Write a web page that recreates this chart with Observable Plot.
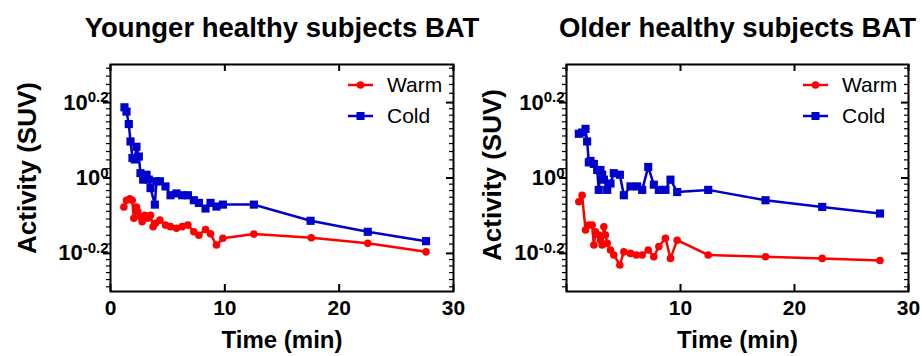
<!DOCTYPE html>
<html><head><meta charset="utf-8">
<script src="https://cdn.jsdelivr.net/npm/d3@7"></script>
<script src="https://cdn.jsdelivr.net/npm/@observablehq/plot@0.6"></script>
<style>
body{margin:0;background:#fff;font-family:"Liberation Sans",Arial,sans-serif;}
#wrap{position:relative;width:922px;height:356px;overflow:hidden;background:#fff;}
#wrap > div{position:absolute;top:0;}
#p1{left:0;} #p2{left:461px;}
#wrap svg{overflow:visible;}
</style></head><body><div id="wrap"><div id="p1"></div><div id="p2"></div></div>
<script>
// ---- data ----
const panelTitles = ["Younger healthy subjects BAT", "Older healthy subjects BAT"];
const seriesNames = ["Warm", "Cold"];
const xTicks = [0, 10, 20, 30];
const xTickLabelsLeft = [0, 10, 20, 30];
const xTickLabelsRight = [10, 20, 30];
const yTickExponents = [-0.2, 0, 0.2];
const yDomain = [0.5, 2];

const youngWarmTime  = [1.17,1.40,1.69,1.90,2.04,2.27,2.39,2.62,2.77,3.00,3.21,3.50,3.73,3.94,4.32,4.81,5.25,5.77,6.27,6.77,7.29,7.73,8.31,8.75,9.27,9.83,12.54,17.56,22.5,27.6];
const youngWarmValue = [0.838,0.873,0.881,0.873,0.782,0.838,0.813,0.789,0.766,0.796,0.782,0.796,0.743,0.758,0.773,0.750,0.743,0.736,0.743,0.750,0.720,0.705,0.730,0.711,0.664,0.692,0.710,0.694,0.671,0.637];
const youngColdTime  = [1.22,1.40,1.60,1.75,1.92,2.13,2.27,2.48,2.62,2.86,3.15,3.35,3.50,3.88,4.02,4.32,4.81,5.25,5.77,6.27,6.77,7.29,7.73,8.31,8.75,9.27,9.83,12.54,17.5,22.5,27.6];
const youngColdValue = [1.54,1.50,1.39,1.25,1.13,1.12,1.21,1.14,1.03,0.99,1.02,0.99,0.94,0.85,0.98,0.98,0.95,0.90,0.91,0.90,0.90,0.873,0.859,0.83,0.859,0.84,0.85,0.85,0.77,0.72,0.68];

const olderWarmTime  = [1.08,1.37,1.67,1.96,2.25,2.40,2.54,2.83,2.98,3.13,3.28,3.42,3.57,3.86,4.15,4.68,5.03,5.61,6.13,6.64,7.17,7.66,8.10,8.68,9.12,9.71,12.43,17.46,22.43,27.5];
const olderWarmValue = [0.865,0.90,0.728,0.75,0.75,0.664,0.72,0.706,0.684,0.664,0.742,0.706,0.671,0.644,0.625,0.588,0.637,0.631,0.625,0.625,0.644,0.618,0.658,0.692,0.612,0.684,0.625,0.618,0.612,0.604];
const olderColdTime  = [1.08,1.37,1.67,1.81,1.96,2.10,2.40,2.69,2.83,2.98,3.13,3.28,3.57,3.86,4.15,4.68,5.03,5.61,6.20,6.64,7.17,7.66,8.10,8.68,9.12,9.71,12.43,17.46,22.43,27.5];
const olderColdValue = [1.31,1.32,1.35,1.25,1.10,1.11,1.09,1.05,0.93,1.05,1.02,0.99,0.93,0.967,1.03,1.02,0.90,0.95,0.95,0.93,1.07,0.96,0.93,0.93,0.99,0.918,0.93,0.873,0.838,0.805];

const warmColor = "#ff0000";
const coldColor = "#0000cc";

// ---- ticks ----
const majorY = yTickExponents.map(e => Math.pow(10, e));
const minorY = [];
for (const e of [-0.4, -0.2, 0, 0.2]) {
  const a = Math.pow(10, e), b = Math.pow(10, e + 0.2);
  for (let j = 1; j < 10; j++) {
    const v = a + j * (b - a) / 10;
    if (v > yDomain[0] && v < yDomain[1]) minorY.push(v);
  }
}

const FONT = "'Liberation Sans', Arial, sans-serif";

function panel(el, opts) {
  const {title, wt, wv, ct, cv, xLabels, width, ml, mr, yLabDx, yLabDy} = opts;
  const warm = wt.map((t, i) => ({t, v: wv[i]}));
  const cold = ct.map((t, i) => ({t, v: cv[i]}));
  const H = 356, mt = 64, mb = 65;
  const fw = width - ml - mr, fh = H - mt - mb;
  const svg = Plot.plot({
    width, height: H, marginTop: mt, marginBottom: mb, marginLeft: ml, marginRight: mr,
    style: {fontFamily: FONT, color: "#000", background: "transparent", overflow: "visible"},
    x: {domain: [0, 30], axis: null},
    y: {type: "log", domain: yDomain, axis: null},
    marks: [
      // ticks
      Plot.tickY(majorY, {y: d => d, insetLeft: -7, insetRight: fw, stroke: "#000", strokeWidth: 2}),
      Plot.tickY(minorY, {y: d => d, insetLeft: -4, insetRight: fw, stroke: "#000", strokeWidth: 1.2}),
      Plot.tickY(majorY, {y: d => d, insetLeft: fw - 7, stroke: "#000", strokeWidth: 2}),
      Plot.tickY(minorY, {y: d => d, insetLeft: fw - 4, stroke: "#000", strokeWidth: 1.2}),
      Plot.tickX(xTicks, {x: d => d, insetTop: fh - 7, stroke: "#000", strokeWidth: 2}),
      Plot.tickX(xTicks, {x: d => d, insetBottom: fh - 7, stroke: "#000", strokeWidth: 2}),
      Plot.frame({stroke: "#000", strokeWidth: 2}),
      // y tick labels
      Plot.text(yTickExponents, {y: e => Math.pow(10, e), frameAnchor: "left", dx: -2, textAnchor: "end", lineAnchor: "middle",
        text: e => "10^" + (e === 0 ? "0" : String(e)), fontSize: 22, fontWeight: "bold"}),
      // x tick labels
      Plot.text(xLabels, {x: d => d, frameAnchor: "bottom", dy: 17, textAnchor: "middle", lineAnchor: "middle",
        text: d => String(d), fontSize: 21, fontWeight: "bold"}),
      // titles
      Plot.text([title], {frameAnchor: "top", dy: -36, textAnchor: "middle", lineAnchor: "middle",
        text: d => d, fontSize: 27.5, fontWeight: "bold"}),
      Plot.text(["Activity (SUV)"], {frameAnchor: "left", rotate: -90, dx: yLabDx, dy: yLabDy, textAnchor: "middle", lineAnchor: "middle",
        text: d => d, fontSize: 26, fontWeight: "bold"}),
      Plot.text(["Time (min)"], {frameAnchor: "bottom", dy: 49, textAnchor: "middle", lineAnchor: "middle",
        text: d => d, fontSize: 24, fontWeight: "bold"}),
      // data
      Plot.line(warm, {x: "t", y: "v", stroke: warmColor, strokeWidth: 2.5}),
      Plot.dot(warm, {x: "t", y: "v", r: 3.8, fill: warmColor, stroke: "none"}),
      Plot.line(cold, {x: "t", y: "v", stroke: coldColor, strokeWidth: 2.5}),
      Plot.dot(cold, {x: "t", y: "v", r: 4.6, symbol: "square", fill: coldColor, stroke: "none"})
    ]
  });
  // superscripts
  d3.select(svg).selectAll("text").each(function () {
    const s = this.textContent;
    const m = /^10\^(.*)$/.exec(s);
    if (m) {
      const t = d3.select(this);
      t.text("");
      t.append("tspan").text("10");
      t.append("tspan").attr("dy", "-0.5em").attr("font-size", 15).text(m[1]);
    }
  });
  // legend
  const xr = width - mr;
  const lg = d3.select(svg).append("g").attr("text-anchor", "start");
  [[seriesNames[0], warmColor, "circle", mt + 21], [seriesNames[1], coldColor, "square", mt + 52]].forEach(([name, col, shape, y]) => {
    lg.append("line").attr("x1", xr - 105).attr("x2", xr - 80).attr("y1", y).attr("y2", y)
      .attr("stroke", col).attr("stroke-width", 2.5);
    if (shape === "circle") lg.append("circle").attr("cx", xr - 92.5).attr("cy", y).attr("r", 3.8).attr("fill", col);
    else lg.append("rect").attr("x", xr - 96.5).attr("y", y - 4).attr("width", 8).attr("height", 8).attr("fill", col);
    lg.append("text").attr("x", xr - 66).attr("y", y).attr("dy", "0.35em").attr("text-anchor", "start")
      .attr("font-size", 21).attr("font-family", FONT).attr("fill", "#000").text(name);
  });
  el.appendChild(svg);
}

panel(document.getElementById("p1"), {title: panelTitles[0], wt: youngWarmTime, wv: youngWarmValue, ct: youngColdTime, cv: youngColdValue,
  xLabels: xTickLabelsLeft, width: 461, ml: 110, mr: 8, yLabDx: -83, yLabDy: -10});
panel(document.getElementById("p2"), {title: panelTitles[1], wt: olderWarmTime, wv: olderWarmValue, ct: olderColdTime, cv: olderColdValue,
  xLabels: xTickLabelsRight, width: 461, ml: 105, mr: 14, yLabDx: -74, yLabDy: -3});
</script></body></html>
